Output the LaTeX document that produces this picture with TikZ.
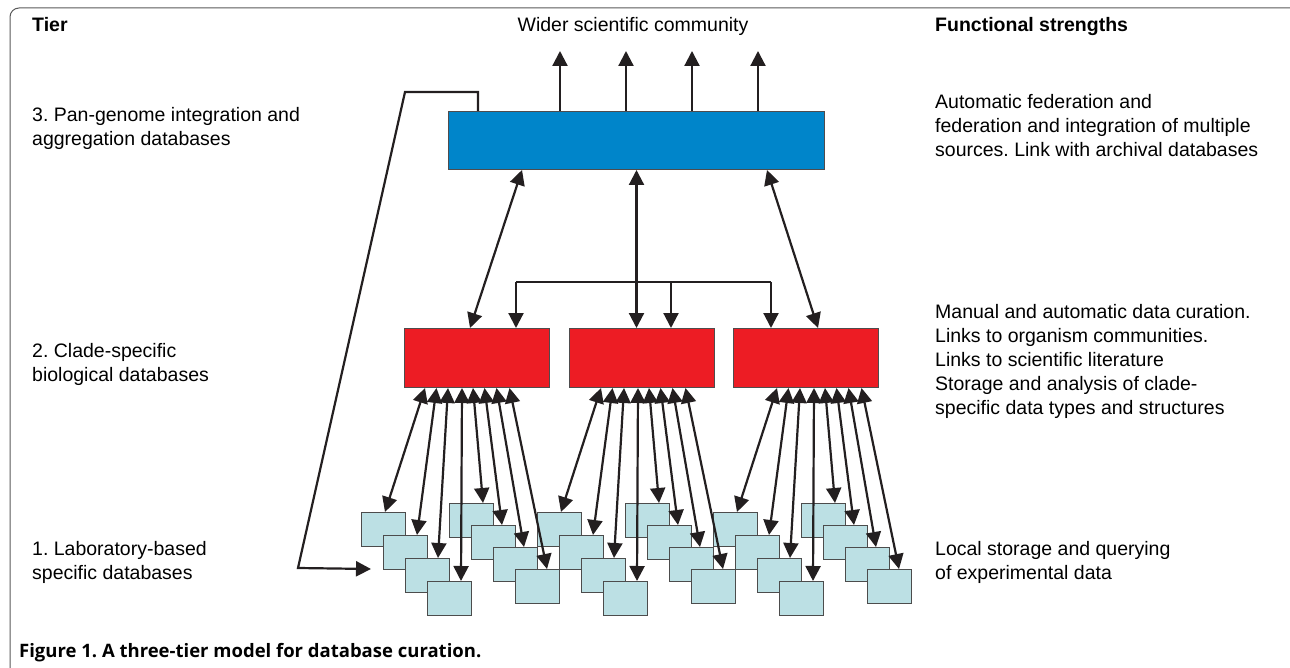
\documentclass[tikz,border=0pt]{standalone}
\usepackage{fontspec}
\setmainfont{Liberation Sans}
\newfontfamily\capfont{Open Sans}
\usetikzlibrary{arrows.meta,positioning}
\frenchspacing

\definecolor{panblue}{RGB}{0,133,202}
\definecolor{cladered}{RGB}{237,28,36}
\definecolor{labcyan}{RGB}{188,224,228}
\definecolor{inkdark}{RGB}{35,31,32}

\tikzset{
  tier/.style={font=\fontsize{19.5}{24}\selectfont, inner sep=0pt, anchor=base west, align=left},
  tierhead/.style={tier, font=\fontsize{19.5}{24}\selectfont\bfseries},
  panbox/.style={draw=inkdark!80, fill=panblue, line width=1pt, minimum width=376pt, minimum height=58pt, anchor=north west, inner sep=0pt},
  cladebox/.style={draw=inkdark!80, fill=cladered, line width=1pt, minimum width=145pt, minimum height=59pt, anchor=north west, inner sep=0pt},
  labbox/.style={draw=black!70, fill=labcyan, line width=1pt, minimum width=44pt, minimum height=34pt, anchor=north west, inner sep=0pt},
  link/.style={draw=inkdark, line width=2.2pt},
  dbl/.style={link, {Triangle[length=15pt,width=15pt]}-{Triangle[length=15pt,width=15pt]}},
  one/.style={link, -{Triangle[length=15pt,width=15pt]}},
}

\begin{document}
\begin{tikzpicture}[x=1pt,y=-1pt]
\useasboundingbox (0,0) rectangle (1290,668);
% frame
\draw[black!65, line width=1pt, rounded corners=9pt] (1300,8) -- (10,8) -- (10,678) -- (30,678);

% headings
\node[tierhead] (tierh) at (32,32) {Tier};
\node[tier, anchor=base] (wider) at (633,32) {Wider scientific community};
\node[tierhead] (strh) at (935,32) {Functional strengths};

% tier labels (base = last line)
\node[tier] (t3) at (32,146) {3. Pan-genome integration and\\aggregation databases};
\node[tier] (t2) at (32,381) {2. Clade-specific\\biological databases};
\node[tier] (t1) at (32,579) {1. Laboratory-based\\specific databases};

\node[tier] (s3) at (935,157) {Automatic federation and\\federation and integration of multiple\\sources. Link with archival databases};
\node[tier] (s2) at (935,414) {Manual and automatic data curation.\\Links to organism communities.\\Links to scientific literature\\Storage and analysis of clade-\\specific data types and structures};
\node[tier] (s1) at (935,579) {Local storage and querying\\of experimental data};

% boxes
\node[panbox] (pan) at (448,111) {};
\node[cladebox] (clade1) at (404,328) {};
\node[cladebox] (clade2) at (569,328) {};
\node[cladebox] (clade3) at (733,328) {};

\foreach \g/\xo in {1/361,2/537,3/713}{
  \foreach \k in {0,...,3}
    \node[labbox] (lab\g-\k) at ({\xo+22*\k},{512+23*\k}) {};
  \foreach \k in {0,...,3}{
    \pgfmathtruncatemacro\m{\k+4}
    \node[labbox] (lab\g-\m) at ({\xo+88+22*\k},{503+22*\k}) {};
  }
}

% clade <-> lab
\foreach \g/\d in {1/-43,2/-32,3/-20}{
  \foreach \k/\t/\b in {0/64/24,1/75.5/34,2/87/33,3/101/34,4/112/34,5/123.5/31,6/135.5/31,7/148.5/32}
    \draw[dbl] ([xshift={\d+\t}]clade\g.south west) -- ([xshift=\b]lab\g-\k.north west);
}

% pan <-> clade
\draw[dbl] ([xshift=74]pan.south west) -- ([xshift=66]clade1.north west);
\draw[dbl] (pan.south) -- (pan.south |- clade2.north);
\draw[dbl] ([xshift=319]pan.south west) -- ([xshift=85]clade3.north west);

\coordinate (busl) at (516,282);
\coordinate (busm) at (671,282);
\coordinate (busr) at (771,282);
\draw[link] (busl) -- (busr);
\draw[one] (busl) -- (busl |- clade1.north);
\draw[one] (busm) -- (busm |- clade2.north);
\draw[one] (busr) -- (busr |- clade3.north);

% to the community
\foreach \x in {112,178,244,310}
  \draw[one] ([xshift=\x]pan.north west) -- ++(0,-60);

% feedback to the labs
\coordinate (fb1) at (405,92);
\coordinate (fb2) at (298,568);
\draw[one] ([xshift=30]pan.north west) |- (fb1) -- (fb2) -- ([xshift=-12pt,yshift=1pt]lab1-1.south west);

\node[font=\capfont\bfseries\fontsize{18.5}{24}\selectfont, inner sep=0pt, anchor=base west] (cap) at (19,657) {Figure 1. A three-tier model for database curation.};
\end{tikzpicture}
\end{document}
